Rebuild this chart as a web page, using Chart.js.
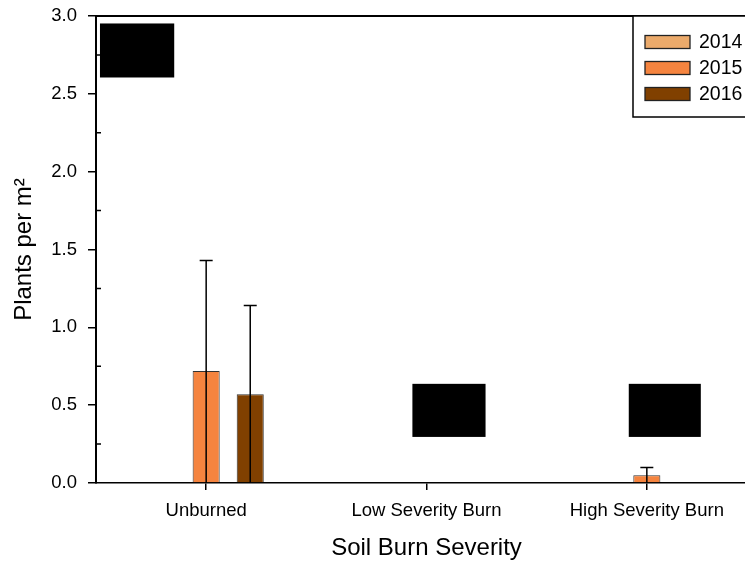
<!DOCTYPE html>
<html>
<head>
<meta charset="utf-8">
<script src="https://cdn.jsdelivr.net/npm/chart.js@4/dist/chart.umd.min.js"></script>
<style>
  html, body { margin: 0; padding: 0; background: #fff; overflow: hidden; }
  #wrap { width: 760px; height: 565px; }
</style>
</head>
<body>
<div id="wrap"><canvas id="c" width="760" height="565"></canvas></div>
<script>
// ---- data ----
const categories = ["Unburned", "Low Severity Burn", "High Severity Burn"];
const seriesNames = ["2014", "2015", "2016"];
const values2014 = [0, 0, 0];
const values2015 = [0.72, 0, 0.05];
const values2016 = [0.57, 0, 0];
const errors2014 = [0, 0, 0];
const errors2015 = [0.71, 0, 0.05];
const errors2016 = [0.57, 0, 0];
const yTicks = [0, 0.5, 1.0, 1.5, 2.0, 2.5, 3.0];
const yMinorTicks = [0.25, 0.75, 1.25, 1.75, 2.25, 2.75];
const seriesColors = ["#EBAA6B", "#F5843F", "#804000"];
// redaction boxes: [xFrom, xTo] in category units, [yFrom, yTo] in value units
const redactX = [[-0.482, -0.145], [0.936, 1.268], [1.918, 2.245]];
const redactY = [[2.605, 2.952], [0.296, 0.637], [0.296, 0.637]];

const FONT = '"Liberation Sans", Arial, sans-serif';
Chart.defaults.font.family = FONT;
Chart.defaults.color = '#000';

const errorData = [errors2014, errors2015, errors2016];

const errorBarPlugin = {
  id: 'errorBars',
  afterDatasetsDraw(chart) {
    const ctx = chart.ctx;
    const y = chart.scales.y;
    ctx.save();
    ctx.strokeStyle = '#000';
    ctx.lineWidth = 1.5;
    chart.data.datasets.forEach((ds, di) => {
      const meta = chart.getDatasetMeta(di);
      meta.data.forEach((bar, i) => {
        const v = ds.data[i];
        const e = errorData[di][i];
        if (!e) return;
        const x = bar.x;
        const yTop = y.getPixelForValue(v + e);
        const yBot = y.getPixelForValue(0);
        ctx.beginPath();
        ctx.moveTo(x, yBot);
        ctx.lineTo(x, yTop);
        ctx.moveTo(x - 6.5, yTop);
        ctx.lineTo(x + 6.5, yTop);
        ctx.stroke();
      });
    });
    ctx.restore();
  }
};

const framePlugin = {
  id: 'frame',
  afterDraw(chart) {
    const ctx = chart.ctx;
    const a = chart.chartArea;
    const y = chart.scales.y;
    const x = chart.scales.x;
    ctx.save();
    // top frame line
    ctx.strokeStyle = '#000';
    ctx.lineWidth = 2;
    ctx.beginPath();
    ctx.moveTo(a.left - 1, a.top);
    ctx.lineTo(chart.width, a.top);
    ctx.stroke();
    // minor inward ticks
    ctx.lineWidth = 1.5;
    ctx.beginPath();
    yMinorTicks.forEach(t => {
      const py = y.getPixelForValue(t);
      ctx.moveTo(a.left, py);
      ctx.lineTo(a.left + 5, py);
    });
    ctx.stroke();
    // redaction boxes
    ctx.fillStyle = '#000';
    redactX.forEach((rx, i) => {
      const x0 = x.getPixelForValue(rx[0]);
      const x1 = x.getPixelForValue(rx[1]);
      const y0 = y.getPixelForValue(redactY[i][1]);
      const y1 = y.getPixelForValue(redactY[i][0]);
      ctx.fillRect(x0, y0, x1 - x0, y1 - y0);
    });
    // legend
    const lx = a.right - 124;
    const ltop = a.top;
    const lbot = a.top + 101;
    ctx.fillStyle = '#fff';
    ctx.fillRect(lx, ltop, chart.width - lx + 5, lbot - ltop);
    ctx.strokeStyle = '#000';
    ctx.lineWidth = 1.5;
    ctx.strokeRect(lx, ltop, chart.width - lx + 20, lbot - ltop);
    ctx.font = '19.5px ' + FONT;
    ctx.textBaseline = 'middle';
    ctx.textAlign = 'left';
    chart.data.datasets.forEach((ds, i) => {
      const cy = ltop + 26 + i * 26;
      ctx.fillStyle = ds.backgroundColor;
      ctx.fillRect(lx + 12, cy - 6.5, 45, 13);
      ctx.strokeStyle = '#222';
      ctx.lineWidth = 1.3;
      ctx.strokeRect(lx + 12, cy - 6.5, 45, 13);
      ctx.fillStyle = '#000';
      ctx.fillText(ds.label, lx + 66, cy + 1);
    });
    ctx.restore();
  }
};

const valueSets = [values2014, values2015, values2016];
const datasets = seriesNames.map((name, i) => ({
  label: name,
  data: valueSets[i],
  backgroundColor: seriesColors[i],
  borderColor: '#333',
  borderWidth: 1,
  categoryPercentage: 0.6,
  barPercentage: 0.614
}));

new Chart(document.getElementById('c'), {
  type: 'bar',
  data: { labels: categories, datasets },
  options: {
    responsive: false,
    animation: false,
    devicePixelRatio: 1,
    layout: { padding: { top: 16, right: 3, left: 0, bottom: 0 } },
    plugins: { legend: { display: false }, tooltip: { enabled: false } },
    scales: {
      x: {
        offset: true,
        grid: { offset: false, drawOnChartArea: false, drawTicks: true, tickLength: 7, color: '#000', lineWidth: 1.5 },
        border: { display: true, color: '#000', width: 1.5 },
        ticks: { font: { size: 18.5 }, padding: 10, color: '#000', maxRotation: 0, autoSkip: false },
        title: { display: true, text: 'Soil Burn Severity', font: { size: 24 }, padding: { top: 0, bottom: 2 }, color: '#000' },
        afterFit(scale) { scale.height = 82; scale.paddingLeft = 0; scale.paddingRight = 0; }
      },
      y: {
        min: 0, max: 3,
        afterBuildTicks(scale) { scale.ticks = yTicks.map(v => ({ value: v })); },
        grid: { drawOnChartArea: false, drawTicks: true, tickLength: 8, color: '#000', lineWidth: 1.5 },
        border: { display: true, color: '#000', width: 2 },
        ticks: { font: { size: 18.5 }, padding: 11, color: '#000', callback: v => Number(v).toFixed(1) },
        title: { display: true, text: 'Plants per m²', font: { size: 24 }, padding: { top: 10, bottom: 0 }, color: '#000' },
        afterFit(scale) { scale.width = 96; scale.paddingTop = 0; scale.paddingBottom = 0; }
      }
    }
  },
  plugins: [errorBarPlugin, framePlugin]
});
</script>
</body>
</html>
